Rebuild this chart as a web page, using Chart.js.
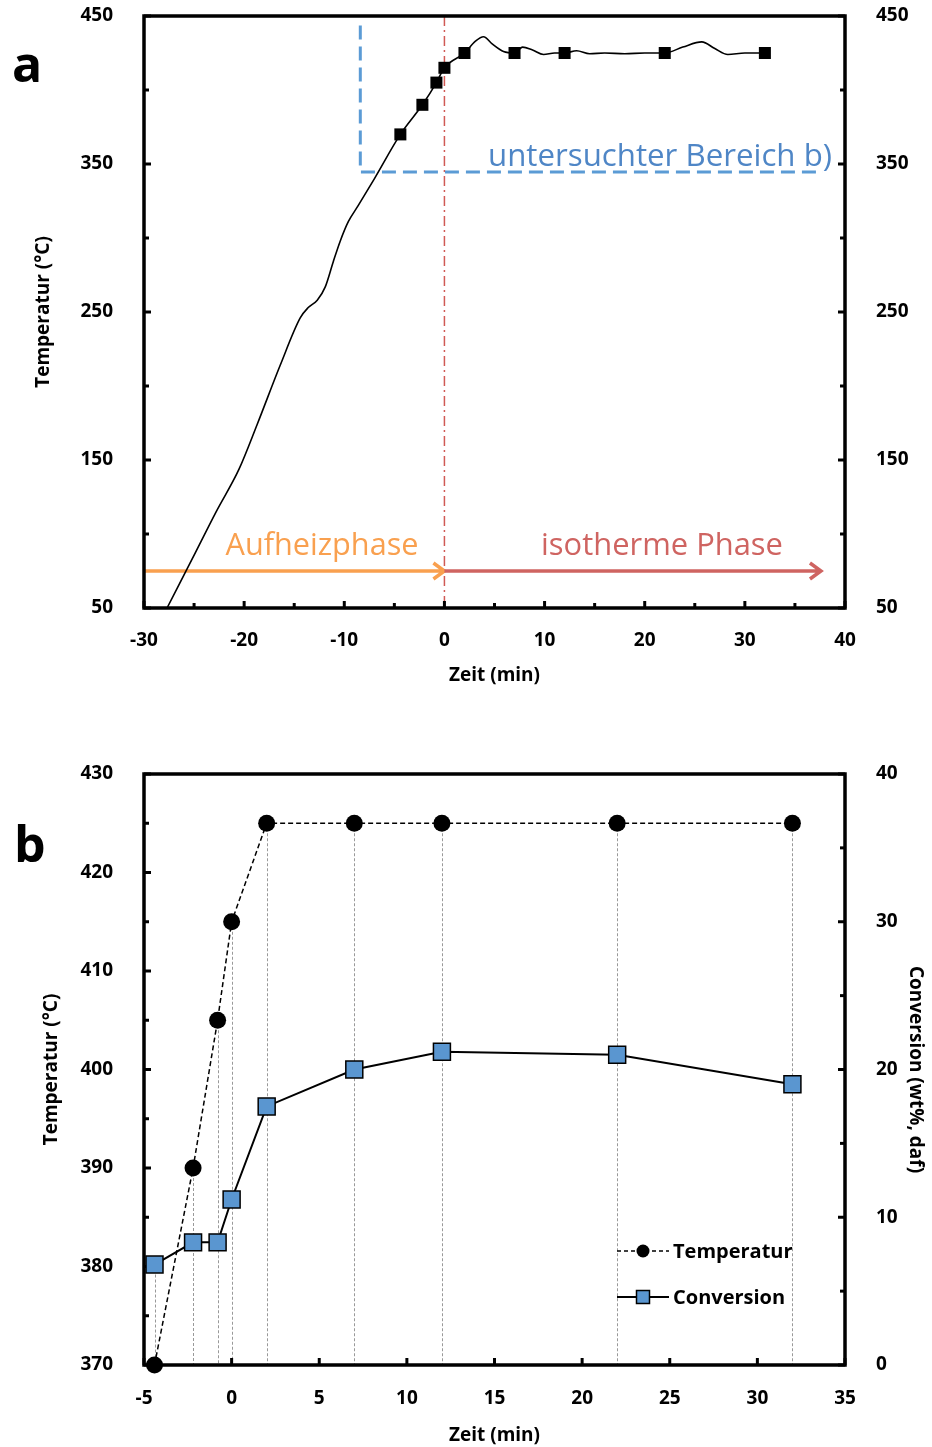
<!DOCTYPE html>
<html>
<head>
<meta charset="utf-8">
<script src="https://cdn.jsdelivr.net/npm/chart.js@4.4.1/dist/chart.umd.min.js"></script>
<style>
    html, body { margin: 0; padding: 0; background: #fff; }
    canvas { display: block; }
</style>
</head>
<body>
<canvas id="chartA" width="932" height="720"></canvas>
<canvas id="chartB" width="932" height="727"></canvas>
<script>
// sampling times (min) and values, shared by both panels
const sampleTime = [-4.4, -2.2, -0.8, 0, 2, 7, 12, 22, 32];
const sampleTemp = [370, 390, 405, 415, 425, 425, 425, 425, 425];
const conversion = [6.8, 8.3, 8.3, 11.2, 17.5, 20.0, 21.2, 21.0, 19.0];

// heating profile of panel a
const profileTime = [-28.6, -27.7, -25.2, -22.8, -20.5, -18.7, -16.4, -14.4, -13.6,
    -12.7, -11.9, -11.1, -10.4, -9.6, -8.6, -7.0,
    -4.4, -2.2, -0.8, 0, 2, 3.1, 3.9, 4.8, 5.9, 7, 7.8, 8.8, 9.9, 11, 12, 13.2, 14.5,
    16, 18, 20, 22, 23.8, 25.7, 27, 28.3, 30, 32];
const profileTemp = [38, 50, 83, 115, 144, 174, 214, 246, 253,
    258, 267, 284, 298, 311, 322, 340,
    370, 390, 405, 415, 425, 433, 436, 431, 426, 425, 429, 427, 424, 425, 425, 426.5, 424.5,
    425, 424.5, 425, 425, 429, 432.5, 428, 424, 425, 425];

// labelled ticks
const tempLabelsA = [50, 150, 250, 350, 450];
const timeLabelsA = [-30, -20, -10, 0, 10, 20, 30, 40];
const tempLabelsB = [370, 380, 390, 400, 410, 420, 430];
const convLabelsB = [0, 10, 20, 30, 40];
const timeLabelsB = [-5, 0, 5, 10, 15, 20, 25, 30, 35];

const FONT = "'Open Sans', 'DejaVu Sans', sans-serif";
Chart.defaults.font.family = FONT;
Chart.defaults.color = "#000";

const tickFont = { family: FONT, size: 19, weight: "bold" };
const titleFont = { family: FONT, size: 19, weight: "bold" };

const onlyLabels = (list) => (v) => (list.includes(v) ? String(v) : "");

// fixed axis box size, no label overhang padding
const fixWidth = (w) => (s) => {
    s.width = w;
    s.paddingTop = 0;
    s.paddingBottom = 0;
};
const fixHeight = (h) => (s) => {
    s.height = h;
    s.paddingLeft = 0;
    s.paddingRight = 0;
};

function fitText(ctx, text, width, weight) {
    let size = 30;
    ctx.font = weight + " " + size + "px " + FONT;
    size = size * width / ctx.measureText(text).width;
    ctx.font = weight + " " + size + "px " + FONT;
}

// thick frame + inward ticks
const frameTicks = {
    id: "frameTicks",
    beforeDatasetsDraw(chart) {
        const { ctx, chartArea: a } = chart;
        ctx.save();
        ctx.strokeStyle = "#000";
        ctx.lineWidth = 3;
        Object.values(chart.scales).forEach((s) => {
            s.ticks.forEach((t) => {
                const p = s.getPixelForValue(t.value);
                const len = t.label !== "" ? 7 : 5;
                ctx.beginPath();
                if (s.axis === "x") {
                    ctx.moveTo(p, a.bottom);
                    ctx.lineTo(p, a.bottom - len);
                } else if (s.position === "left") {
                    ctx.moveTo(a.left, p);
                    ctx.lineTo(a.left + len, p);
                } else {
                    ctx.moveTo(a.right, p);
                    ctx.lineTo(a.right - len, p);
                }
                ctx.stroke();
            });
        });
        ctx.lineWidth = 3.5;
        ctx.strokeRect(a.left, a.top, a.right - a.left, a.bottom - a.top);
        ctx.restore();
    },
};

function arrow(ctx, x1, x2, y, color) {
    ctx.strokeStyle = color;
    ctx.lineWidth = 3.5;
    ctx.setLineDash([]);
    ctx.beginPath();
    ctx.moveTo(x1, y);
    ctx.lineTo(x2, y);
    ctx.moveTo(x2 - 11, y - 8);
    ctx.lineTo(x2, y);
    ctx.lineTo(x2 - 11, y + 8);
    ctx.stroke();
}

const annotA = {
    id: "annotA",
    beforeDatasetsDraw(chart) {
        const { ctx, chartArea: a } = chart;
        const x = chart.scales.x, y = chart.scales.y;
        ctx.save();
        // start of isothermal phase
        ctx.strokeStyle = "#d05a55";
        ctx.lineWidth = 1.5;
        ctx.setLineDash([10, 4, 2, 4]);
        ctx.beginPath();
        ctx.moveTo(x.getPixelForValue(0), a.top);
        ctx.lineTo(x.getPixelForValue(0), a.bottom);
        ctx.stroke();
        // examined range
        ctx.strokeStyle = "#5b9bd5";
        ctx.lineWidth = 3;
        ctx.setLineDash([14, 7]);
        ctx.beginPath();
        ctx.moveTo(x.getPixelForValue(-8.4), y.getPixelForValue(443.5));
        ctx.lineTo(x.getPixelForValue(-8.4), y.getPixelForValue(344.6));
        ctx.lineTo(x.getPixelForValue(37.8), y.getPixelForValue(344.6));
        ctx.stroke();
        // phases
        const yArr = y.getPixelForValue(75);
        arrow(ctx, a.left, x.getPixelForValue(0), yArr, "#f9a04f");
        arrow(ctx, x.getPixelForValue(0), x.getPixelForValue(37.6), yArr, "#cf6461");

        ctx.textBaseline = "alphabetic";
        ctx.textAlign = "center";
        fitText(ctx, "untersuchter Bereich b)", 344, "normal");
        ctx.fillStyle = "#4f86c6";
        ctx.fillText("untersuchter Bereich b)", 660, 166);
        fitText(ctx, "Aufheizphase", 193, "normal");
        ctx.fillStyle = "#f9a04f";
        ctx.fillText("Aufheizphase", 322, 555);
        fitText(ctx, "isotherme Phase", 242, "normal");
        ctx.fillStyle = "#cf6461";
        ctx.fillText("isotherme Phase", 662, 555);

        ctx.font = "bold 50px " + FONT;
        ctx.fillStyle = "#000";
        ctx.textAlign = "left";
        ctx.fillText("a", 12, 82);
        ctx.restore();
    },
};

new Chart(document.getElementById("chartA").getContext("2d"), {
    type: "scatter",
    data: {
        datasets: [
            {
                data: sampleTime.map((t, i) => ({ x: t, y: sampleTemp[i] })),
                showLine: false,
                pointStyle: "rect",
                pointRadius: 8.5,
                backgroundColor: "#000",
                borderColor: "#000",
                borderWidth: 0,
            },
            {
                data: profileTime.map((t, i) => ({ x: t, y: profileTemp[i] })),
                showLine: true,
                borderColor: "#000",
                borderWidth: 1.6,
                pointRadius: 0,
                cubicInterpolationMode: "monotone",
            },
        ],
    },
    options: {
        responsive: false,
        animation: false,
        layout: { autoPadding: false, padding: { top: 16, left: 0, right: 0, bottom: 0 } },
        plugins: { legend: { display: false }, tooltip: { enabled: false } },
        scales: {
            x: {
                type: "linear",
                min: -30,
                max: 40,
                grid: { display: false },
                border: { display: false },
                ticks: { stepSize: 5, autoSkip: false, maxRotation: 0, padding: 13, font: tickFont, callback: onlyLabels(timeLabelsA) },
                title: { display: true, text: "Zeit (min)", font: titleFont, padding: { top: 0, bottom: 33 } },
                afterFit: fixHeight(112),
            },
            y: {
                position: "left",
                min: 50,
                max: 450,
                grid: { display: false },
                border: { display: false },
                ticks: { stepSize: 50, autoSkip: false, padding: 23, font: tickFont, callback: onlyLabels(tempLabelsA) },
                title: { display: true, text: "Temperatur (°C)", font: titleFont, padding: { top: 32, bottom: 0 } },
                afterFit: fixWidth(144),
            },
            y2: {
                position: "right",
                display: true,
                min: 50,
                max: 450,
                grid: { display: false },
                border: { display: false },
                ticks: { stepSize: 50, autoSkip: false, padding: 23, font: tickFont, callback: onlyLabels(tempLabelsA) },
                afterFit: fixWidth(87),
            },
        },
    },
    plugins: [annotA, frameTicks],
});

// panel b: drop lines and legend
const dropLines = {
    id: "dropLines",
    beforeDatasetsDraw(chart) {
        const { ctx, chartArea: a } = chart;
        const x = chart.scales.x, y = chart.scales.y, y2 = chart.scales.y2;
        ctx.save();
        ctx.strokeStyle = "#999";
        ctx.lineWidth = 1;
        ctx.setLineDash([3, 2]);
        sampleTime.forEach((t, i) => {
            const px = Math.round(x.getPixelForValue(t)) + 0.5;
            const top = Math.min(y.getPixelForValue(sampleTemp[i]), y2.getPixelForValue(conversion[i]));
            ctx.beginPath();
            ctx.moveTo(px, top);
            ctx.lineTo(px, a.bottom);
            ctx.stroke();
        });
        ctx.restore();
    },
};

const legendB = {
    id: "legendB",
    afterDraw(chart) {
        const { ctx } = chart;
        ctx.save();
        ctx.strokeStyle = "#000";
        ctx.lineWidth = 1.5;
        ctx.setLineDash([4, 3]);
        ctx.beginPath();
        ctx.moveTo(617, 531);
        ctx.lineTo(669, 531);
        ctx.stroke();
        ctx.setLineDash([]);
        ctx.fillStyle = "#000";
        ctx.beginPath();
        ctx.arc(643, 531, 6.5, 0, Math.PI * 2);
        ctx.fill();

        ctx.lineWidth = 2;
        ctx.beginPath();
        ctx.moveTo(617, 577);
        ctx.lineTo(669, 577);
        ctx.stroke();
        ctx.fillStyle = "#5a96d0";
        ctx.fillRect(636.5, 570.5, 13, 13);
        ctx.lineWidth = 1.5;
        ctx.strokeRect(636.5, 570.5, 13, 13);

        ctx.fillStyle = "#000";
        ctx.font = "bold 20px " + FONT;
        ctx.textBaseline = "middle";
        ctx.textAlign = "left";
        ctx.fillText("Temperatur", 673, 532);
        ctx.fillText("Conversion", 673, 578);

        ctx.font = "bold 50px " + FONT;
        ctx.textBaseline = "alphabetic";
        ctx.fillText("b", 14, 142);
        ctx.restore();
    },
};

new Chart(document.getElementById("chartB").getContext("2d"), {
    type: "scatter",
    data: {
        datasets: [
            {
                label: "Conversion",
                yAxisID: "y2",
                data: sampleTime.map((t, i) => ({ x: t, y: conversion[i] })),
                showLine: true,
                borderColor: "#000",
                borderWidth: 2,
                pointStyle: "rect",
                pointRadius: 12,
                pointBackgroundColor: "#5a96d0",
                pointBorderColor: "#000",
                pointBorderWidth: 1.5,
                clip: false,
            },
            {
                label: "Temperatur",
                yAxisID: "y",
                data: sampleTime.map((t, i) => ({ x: t, y: sampleTemp[i] })),
                showLine: true,
                borderColor: "#000",
                borderWidth: 1.5,
                borderDash: [5, 3],
                pointStyle: "circle",
                pointRadius: 8.5,
                pointBackgroundColor: "#000",
                pointBorderColor: "#000",
                pointBorderWidth: 0,
                clip: false,
            },
        ],
    },
    options: {
        responsive: false,
        animation: false,
        layout: { autoPadding: false, padding: { top: 54, left: 0, right: 0, bottom: 0 } },
        plugins: { legend: { display: false }, tooltip: { enabled: false } },
        scales: {
            x: {
                type: "linear",
                min: -5,
                max: 35,
                grid: { display: false },
                border: { display: false },
                ticks: { stepSize: 5, autoSkip: false, maxRotation: 0, padding: 14, font: tickFont, callback: onlyLabels(timeLabelsB) },
                title: { display: true, text: "Zeit (min)", font: titleFont, padding: { top: 0, bottom: 0 } },
                afterFit: fixHeight(82),
            },
            y: {
                position: "left",
                min: 370,
                max: 430,
                grid: { display: false },
                border: { display: false },
                ticks: { stepSize: 5, autoSkip: false, padding: 23, font: tickFont, callback: onlyLabels(tempLabelsB) },
                title: { display: true, text: "Temperatur (°C)", font: titleFont, padding: { top: 40, bottom: 0 } },
                afterFit: fixWidth(144),
            },
            y2: {
                position: "right",
                min: 0,
                max: 40,
                grid: { display: false },
                border: { display: false },
                ticks: { stepSize: 5, autoSkip: false, padding: 23, font: tickFont, callback: onlyLabels(convLabelsB) },
                title: { display: true, text: "Conversion (wt%, daf)", font: titleFont, padding: { top: 5, bottom: 0 } },
                afterFit: fixWidth(87),
            },
        },
    },
    plugins: [dropLines, frameTicks, legendB],
});
</script>
</body>
</html>
